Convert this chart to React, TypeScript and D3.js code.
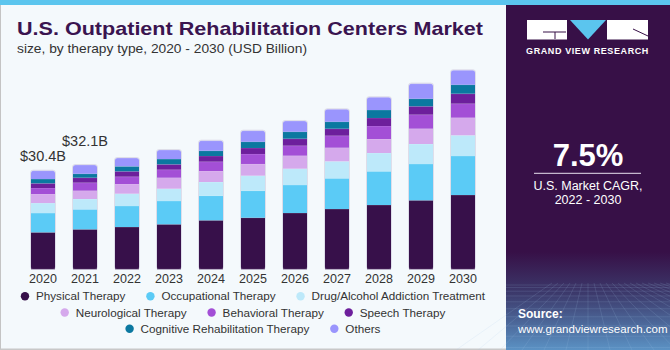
import { useEffect, useRef } from "react";
import * as d3 from "d3";

const years = ["2020", "2021", "2022", "2023", "2024", "2025", "2026", "2027", "2028", "2029", "2030"];

const physical = [11.4, 12.33, 13.04, 13.88, 15.11, 15.91, 17.36, 18.59, 19.83, 21.28, 22.91];
const occupational = [5.95, 6.17, 6.48, 7.18, 7.59, 8.33, 8.63, 9.47, 10.39, 11.19, 12.03];
const drugAlcohol = [3.08, 3.18, 3.79, 3.79, 4.22, 4.63, 5.03, 5.24, 5.64, 6.17, 6.38];
const neurological = [2.78, 2.56, 2.99, 3.39, 3.39, 3.61, 4.01, 4.19, 4.32, 4.72, 5.43];
const behavioral = [1.85, 2.47, 2.25, 2.47, 2.87, 3.08, 3.08, 3.7, 4.01, 4.32, 4.32];
const speech = [1.45, 1.54, 1.66, 1.66, 1.76, 1.85, 2.16, 2.16, 2.47, 2.59, 3.08];
const cognitive = [1.33, 1.23, 1.54, 1.63, 1.63, 1.94, 2.16, 2.16, 2.47, 2.34, 2.78];
const others = [2.56, 2.68, 2.56, 2.78, 3.08, 3.39, 3.3, 3.82, 3.92, 4.63, 4.44];

const seriesNames = [
  "Physical Therapy",
  "Occupational Therapy",
  "Drug/Alcohol Addiction Treatment",
  "Neurological Therapy",
  "Behavioral Therapy",
  "Speech Therapy",
  "Cognitive Rehabilitation Therapy",
  "Others",
];
const seriesValues = [physical, occupational, drugAlcohol, neurological, behavioral, speech, cognitive, others];
const colors = ["#37104a", "#5bcbf6", "#bde9fa", "#d5a9ec", "#a34fd6", "#6d1f9c", "#0b78a0", "#9a95fd"];

const valueLabels = ["$30.4B", "$32.1B"];
const legendRows = [[0, 1, 2], [3, 4, 5], [6, 7]];

export default function App() {
  const svgRef = useRef<SVGSVGElement>(null);

  useEffect(() => {
    if (!svgRef.current) return;
    document.body.style.margin = "0";
    const svg = d3.select(svgRef.current);
    svg.selectAll("*").remove();

    const width = 670;
    const height = 350;
    const font = "'Liberation Sans', Arial, sans-serif";

    // background
    svg.append("rect").attr("width", width).attr("height", height).attr("fill", "#f4f9fc");
    svg.append("rect").attr("width", 1).attr("height", height).attr("fill", "#c4c4c4");
    svg.append("rect").attr("y", height - 1.5).attr("width", width).attr("height", 1.5).attr("fill", "#c8c8c8");

    // right panel
    const defs = svg.append("defs");
    const grad = defs
      .append("linearGradient")
      .attr("id", "panelGrad")
      .attr("x1", 0)
      .attr("y1", 0)
      .attr("x2", 0)
      .attr("y2", 1);
    grad.append("stop").attr("offset", "0.72").attr("stop-color", "#371047");
    grad.append("stop").attr("offset", "0.84").attr("stop-color", "#3c3a6c");
    grad.append("stop").attr("offset", "1").attr("stop-color", "#5b92c4");

    const px = 506;
    svg.append("rect").attr("x", px).attr("y", 0).attr("width", width - px).attr("height", height).attr("fill", "url(#panelGrad)");

    // faint grid at the bottom of the panel
    const grid = svg.append("g").attr("stroke", "rgba(170,200,235,0.25)").attr("stroke-width", 0.6);
    d3.range(0, 12).forEach((i) => {
      const y = 285 + i * i * 0.55 + i * 2;
      grid.append("line").attr("x1", px).attr("x2", width).attr("y1", y).attr("y2", y);
    });
    d3.range(-6, 14).forEach((i) => {
      grid
        .append("line")
        .attr("x1", 588 + i * 6)
        .attr("y1", 283)
        .attr("x2", 588 + i * 22)
        .attr("y2", height);
    });

    // top strip
    svg.append("rect").attr("width", width).attr("height", 5).attr("fill", "#5bc5ee");

    // logo
    const logo = svg.append("g");
    logo.append("rect").attr("x", 527).attr("y", 20).attr("width", 40).attr("height", 19.5).attr("fill", "#fff");
    logo
      .append("path")
      .attr("d", "M543,32 L566,32 M555,32 L555,39")
      .attr("stroke", "#371047")
      .attr("stroke-width", 1)
      .attr("fill", "none");
    logo.append("path").attr("d", "M570,20 L606,20 L588,39.5 Z").attr("fill", "#5bc5ee");
    logo.append("rect").attr("x", 607).attr("y", 20).attr("width", 41).attr("height", 19.5).attr("fill", "#fff");
    logo
      .append("path")
      .attr("d", "M633,29 L648,36")
      .attr("stroke", "#371047")
      .attr("stroke-width", 1);
    logo
      .append("text")
      .attr("x", 587.5)
      .attr("y", 53.5)
      .attr("text-anchor", "middle")
      .attr("fill", "#fff")
      .attr("font-family", font)
      .attr("font-weight", "bold")
      .attr("font-size", "9px")
      .attr("letter-spacing", "0.6px")
      .text("GRAND VIEW RESEARCH");

    // CAGR
    svg
      .append("text")
      .attr("x", 588)
      .attr("y", 165.5)
      .attr("text-anchor", "middle")
      .attr("fill", "#fff")
      .attr("font-family", font)
      .attr("font-weight", "bold")
      .attr("font-size", "31px")
      .text("7.5%");
    svg.append("rect").attr("x", 534).attr("y", 172.8).attr("width", 107).attr("height", 1).attr("fill", "#e8e0ee");
    svg
      .append("text")
      .attr("x", 588)
      .attr("y", 189.5)
      .attr("text-anchor", "middle")
      .attr("fill", "#fff")
      .attr("font-family", font)
      .attr("font-size", "12.5px")
      .text("U.S. Market CAGR,");
    svg
      .append("text")
      .attr("x", 588)
      .attr("y", 203.5)
      .attr("text-anchor", "middle")
      .attr("fill", "#fff")
      .attr("font-family", font)
      .attr("font-size", "12.5px")
      .text("2022 - 2030");

    // source
    svg
      .append("text")
      .attr("x", 518)
      .attr("y", 318)
      .attr("fill", "#fff")
      .attr("font-family", font)
      .attr("font-weight", "bold")
      .attr("font-size", "12px")
      .text("Source:");
    svg
      .append("text")
      .attr("x", 518)
      .attr("y", 332.5)
      .attr("fill", "#fff")
      .attr("font-family", font)
      .attr("font-size", "11.5px")
      .text("www.grandviewresearch.com");

    // titles
    svg
      .append("text")
      .attr("x", 17)
      .attr("y", 35)
      .attr("fill", "#3a1450")
      .attr("font-family", font)
      .attr("font-weight", "900")
      .attr("font-size", "19px")
      .attr("textLength", 466)
      .attr("lengthAdjust", "spacingAndGlyphs")
      .text("U.S. Outpatient Rehabilitation Centers Market");
    svg
      .append("text")
      .attr("x", 17)
      .attr("y", 53.3)
      .attr("fill", "#333")
      .attr("font-family", font)
      .attr("font-size", "13px")
      .attr("textLength", 290)
      .attr("lengthAdjust", "spacingAndGlyphs")
      .text("size, by therapy type, 2020 - 2030 (USD Billion)");

    // chart
    const rows = years.map((year, i) => {
      const r: Record<string, number | string> = { year };
      seriesNames.forEach((name, s) => (r[name] = seriesValues[s][i]));
      return r;
    });
    const stacked = d3.stack<any>().keys(seriesNames)(rows);

    const x = d3.scaleBand<string>().domain(years).range([22, 484]).paddingInner(0.4286).paddingOuter(0.2143);
    const baseline = 269.3;
    const y = d3.scaleLinear().domain([0, 70]).range([baseline, baseline - 70 * 3.243]);

    const g = svg.append("g");
    const bw = x.bandwidth();
    stacked.forEach((layer, s) => {
      const isTop = s === stacked.length - 1;
      layer.forEach((d, i) => {
        const x0 = x(years[i])!;
        const yTop = y(d[1]);
        const yBot = y(d[0]);
        if (isTop) {
          const r = 2.5;
          g.append("path")
            .attr(
              "d",
              `M${x0},${yBot} L${x0},${yTop + r} Q${x0},${yTop} ${x0 + r},${yTop} L${x0 + bw - r},${yTop} Q${x0 + bw},${yTop} ${x0 + bw},${yTop + r} L${x0 + bw},${yBot} Z`
            )
            .attr("fill", colors[s]);
        } else {
          g.append("rect")
            .attr("x", x0)
            .attr("y", yTop)
            .attr("width", bw)
            .attr("height", yBot - yTop)
            .attr("fill", colors[s]);
        }
        g.append("line")
          .attr("x1", x0)
          .attr("x2", x0 + bw)
          .attr("y1", yTop)
          .attr("y2", yTop)
          .attr("stroke", "rgba(255,255,255,0.35)")
          .attr("stroke-width", 0.6);
      });
    });

    // faint bar outlines
    years.forEach((yr, i) => {
      const x0 = x(yr)!;
      const top = y(d3.sum(seriesValues, (v) => v[i]));
      g.append("rect")
        .attr("x", x0 - 0.5)
        .attr("y", top - 0.5)
        .attr("width", bw + 1)
        .attr("height", baseline - top + 0.5)
        .attr("rx", 2.5)
        .attr("fill", "none")
        .attr("stroke", "rgba(180,170,200,0.45)")
        .attr("stroke-width", 0.8);
    });

    // value labels
    valueLabels.forEach((lab, i) => {
      const total = d3.sum(seriesValues, (v) => v[i]);
      g.append("text")
        .attr("x", x(years[i])! + bw / 2)
        .attr("y", y(total) - (i === 0 ? 10 : 19))
        .attr("text-anchor", "middle")
        .attr("fill", "#333")
        .attr("font-family", font)
        .attr("font-size", "14.5px")
        .text(lab);
    });

    // year labels
    g.selectAll(".year")
      .data(years)
      .join("text")
      .attr("x", (d) => x(d)! + bw / 2)
      .attr("y", 283)
      .attr("text-anchor", "middle")
      .attr("fill", "#333")
      .attr("font-family", font)
      .attr("font-size", "12.5px")
      .text((d) => d);

    // legend
    const legendCenter = 253;
    legendRows.forEach((row, ri) => {
      const cy = 296.3 + ri * 16.2;
      const lg = svg.append("g");
      let cx = 0;
      row.forEach((s, k) => {
        lg.append("circle").attr("cx", cx + 4).attr("cy", cy).attr("r", 4.2).attr("fill", colors[s]);
        const t = lg
          .append("text")
          .attr("x", cx + 15)
          .attr("y", cy + 4)
          .attr("fill", "#333")
          .attr("font-family", font)
          .attr("font-size", "11.7px")
          .text(seriesNames[s]);
        const w = (t.node() as SVGTextElement).getComputedTextLength();
        cx += 15 + w + (k < row.length - 1 ? 21 : 0);
      });
      lg.attr("transform", `translate(${legendCenter - cx / 2},0)`);
    });
  }, []);

  return (
    <svg
      ref={svgRef}
      width={670}
      height={350}
      style={{ position: "absolute", left: 0, top: 0, display: "block" }}
      role="img"
      aria-label="U.S. outpatient rehabilitation centers market by therapy type"
    />
  );
}
